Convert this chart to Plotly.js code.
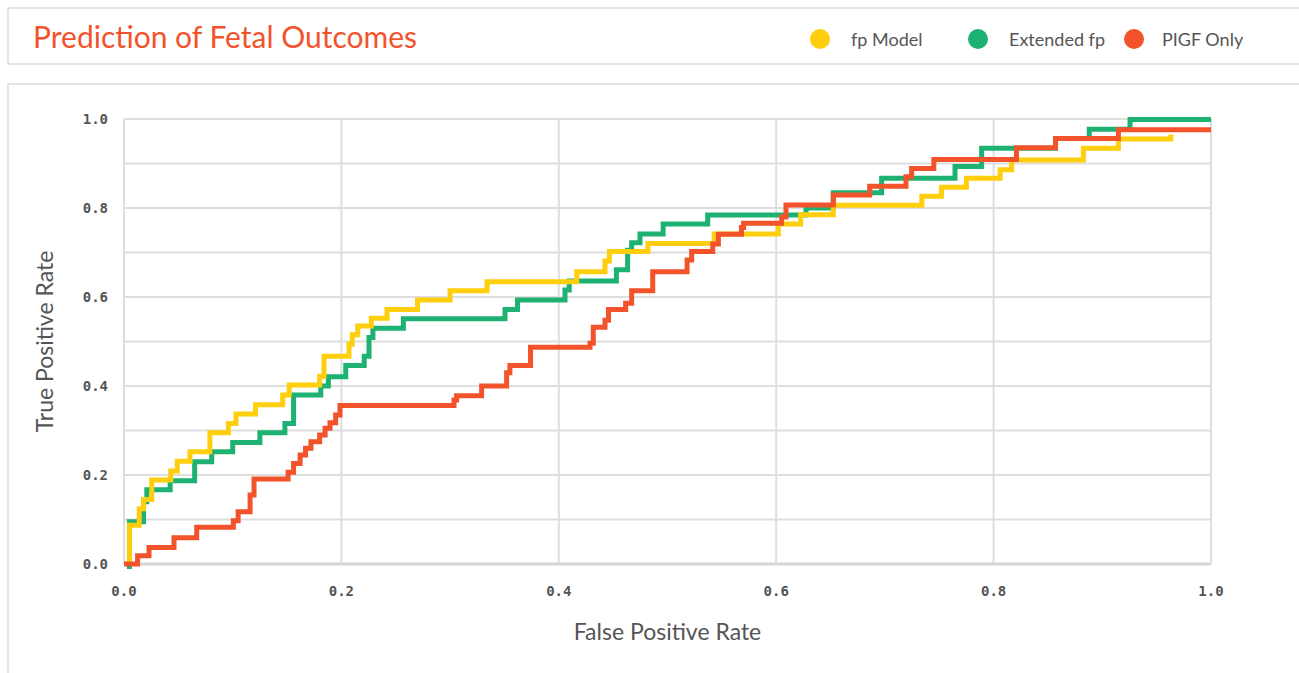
<!DOCTYPE html>
<html>
<head>
<meta charset="utf-8">
<script src="https://cdn.plot.ly/plotly-3.0.1.min.js"></script>
<style>
  html, body { margin: 0; padding: 0; background: #ffffff; }
  #chart { width: 1299px; height: 673px; }
</style>
</head>
<body>
<div id="chart"></div>
<script>
// ---- Data (ROC step points: false positive rate -> true positive rate) ----
const seriesNames = ["fp Model", "Extended fp", "PIGF Only"];

const fpModelFPR = [0.005, 0.005, 0.014, 0.018, 0.0255, 0.043, 0.049, 0.0607, 0.079, 0.096, 0.103, 0.121, 0.146, 0.152, 0.180, 0.184, 0.207, 0.210, 0.215, 0.2275, 0.242, 0.270, 0.300, 0.334, 0.4165, 0.4425, 0.4465, 0.482, 0.543, 0.602, 0.6225, 0.6525, 0.734, 0.752, 0.775, 0.806, 0.8166, 0.8826, 0.9148, 0.963];
const fpModelTPR = [0.000, 0.087, 0.124, 0.145, 0.189, 0.209, 0.231, 0.252, 0.295, 0.316, 0.337, 0.358, 0.380, 0.402, 0.422, 0.467, 0.494, 0.515, 0.535, 0.552, 0.572, 0.593, 0.614, 0.634, 0.657, 0.681, 0.702, 0.7205, 0.7416, 0.764, 0.785, 0.806, 0.8265, 0.8465, 0.8667, 0.886, 0.908, 0.934, 0.955, 0.965];

const extendedFPR = [0.005, 0.005, 0.018, 0.021, 0.0425, 0.065, 0.0807, 0.100, 0.125, 0.148, 0.156, 0.181, 0.188, 0.204, 0.221, 0.2254, 0.229, 0.257, 0.3505, 0.362, 0.4057, 0.4096, 0.453, 0.4633, 0.467, 0.4747, 0.496, 0.537, 0.6274, 0.6525, 0.697, 0.7645, 0.789, 0.857, 0.888, 0.9255, 1.000];
const extendedTPR = [-0.011, 0.095, 0.140, 0.167, 0.187, 0.230, 0.252, 0.273, 0.295, 0.316, 0.380, 0.400, 0.421, 0.446, 0.467, 0.509, 0.530, 0.551, 0.572, 0.593, 0.616, 0.636, 0.661, 0.705, 0.722, 0.7416, 0.764, 0.784, 0.800, 0.834, 0.8667, 0.893, 0.934, 0.956, 0.977, 0.999, 0.999];

const pigfFPR = [0.000, 0.0125, 0.023, 0.046, 0.0669, 0.1006, 0.105, 0.116, 0.1196, 0.151, 0.156, 0.162, 0.167, 0.172, 0.180, 0.185, 0.1895, 0.1947, 0.1987, 0.3036, 0.306, 0.329, 0.352, 0.355, 0.374, 0.4287, 0.4317, 0.4425, 0.4457, 0.4615, 0.467, 0.4864, 0.518, 0.5222, 0.5416, 0.5468, 0.568, 0.570, 0.605, 0.609, 0.6525, 0.686, 0.7194, 0.7246, 0.745, 0.821, 0.857, 0.9148, 1.000];
const pigfTPR = [0.000, 0.0187, 0.037, 0.059, 0.0824, 0.097, 0.1176, 0.155, 0.191, 0.206, 0.226, 0.245, 0.260, 0.275, 0.290, 0.305, 0.3176, 0.335, 0.356, 0.3685, 0.378, 0.400, 0.430, 0.446, 0.487, 0.496, 0.532, 0.548, 0.572, 0.586, 0.614, 0.657, 0.683, 0.702, 0.719, 0.741, 0.756, 0.766, 0.780, 0.807, 0.829, 0.849, 0.870, 0.889, 0.909, 0.9355, 0.956, 0.976, 0.976];

const xTickVals = [0, 0.2, 0.4, 0.6, 0.8, 1.0];
const xTickText = ["0.0", "0.2", "0.4", "0.6", "0.8", "1.0"];
const yTickVals = [0, 0.2, 0.4, 0.6, 0.8, 1.0];
const yTickText = ["0.0", "0.2", "0.4", "0.6", "0.8", "1.0"];
const yGridVals = [0, 0.1, 0.2, 0.3, 0.4, 0.5, 0.6, 0.7, 0.8, 0.9, 1.0];

const colors = { yellow: "#FFCE0C", green: "#1DB272", red: "#F2532B" };

// ---- Layout geometry helpers (pixel -> paper) ----
const W = 1299, H = 673;
const M = { l: 113, r: 77, t: 110, b: 100 };
const PW = W - M.l - M.r, PH = H - M.t - M.b;
const px = v => (v - M.l) / PW;
const py = v => 1 - (v - M.t) / PH;

const lineStyle = c => ({ color: c, width: 5, shape: "hv" });

const traces = [
  { x: extendedFPR, y: extendedTPR, name: seriesNames[1], mode: "lines", line: lineStyle(colors.green), showlegend: false, hoverinfo: "x+y+name" },
  { x: fpModelFPR, y: fpModelTPR, name: seriesNames[0], mode: "lines", line: lineStyle(colors.yellow), showlegend: false, hoverinfo: "x+y+name" },
  { x: pigfFPR, y: pigfTPR, name: seriesNames[2], mode: "lines", line: lineStyle(colors.red), showlegend: false, hoverinfo: "x+y+name" }
];

// Legend drawn as circles + labels
const legendItems = [
  { name: seriesNames[0], color: colors.yellow, cx: 820, tx: 849 },
  { name: seriesNames[1], color: colors.green, cx: 978, tx: 1007 },
  { name: seriesNames[2], color: colors.red, cx: 1134, tx: 1160 }
];
const legendY = 39, legendR = 10;

const gridColor = "#dedede";
const shapes = [
  // header box
  { type: "rect", xref: "paper", yref: "paper", x0: px(8), x1: px(1310), y0: py(64), y1: py(8),
    line: { color: "#dcdcdc", width: 1.5 }, fillcolor: "rgba(0,0,0,0)", layer: "below" },
  // chart box
  { type: "rect", xref: "paper", yref: "paper", x0: px(8), x1: px(1310), y0: py(690), y1: py(84),
    line: { color: "#dcdcdc", width: 1.5 }, fillcolor: "rgba(0,0,0,0)", layer: "below" }
];
// grid lines limited to the [0,1] x [0,1] square
yGridVals.forEach(v => shapes.push({ type: "line", xref: "x", yref: "y", x0: 0, x1: 1, y0: v, y1: v,
  line: { color: v === 0 ? "#d6d6d6" : gridColor, width: v === 0 ? 3 : 2 }, layer: "below" }));
xTickVals.forEach(v => shapes.push({ type: "line", xref: "x", yref: "y", x0: v, x1: v, y0: 0, y1: 1,
  line: { color: gridColor, width: 2 }, layer: "below" }));

legendItems.forEach(it => {
  shapes.push({ type: "circle", xref: "paper", yref: "paper",
    x0: px(it.cx - legendR), x1: px(it.cx + legendR), y0: py(legendY + legendR), y1: py(legendY - legendR),
    fillcolor: it.color, line: { width: 0 } });
});

const annotations = legendItems.map(it => ({
  xref: "paper", yref: "paper", x: px(it.tx), y: py(legendY), xanchor: "left", yanchor: "middle",
  text: it.name, showarrow: false, font: { family: "Lato, sans-serif", size: 18, color: "#555555" }
}));

const tickFont = { family: "'DejaVu Sans Mono', monospace", size: 14, color: "#555555", weight: "bold" };

const layout = {
  width: W, height: H,
  margin: { l: M.l, r: M.r, t: M.t, b: M.b, pad: 0, autoexpand: false },
  paper_bgcolor: "#ffffff", plot_bgcolor: "rgba(0,0,0,0)",
  showlegend: false,
  title: {
    text: "Prediction of Fetal Outcomes",
    font: { family: "Lato, sans-serif", size: 30, color: "#F2532B" },
    xref: "container", yref: "container", x: 33 / W, xanchor: "left", y: 1 - 37 / H, yanchor: "middle"
  },
  xaxis: {
    range: [-11 / 1087, -11 / 1087 + PW / 1087],
    tickvals: xTickVals, ticktext: xTickText, tickfont: tickFont,
    showgrid: false, zeroline: false, showline: false, ticks: "", ticklabelstandoff: 8,
    automargin: false, fixedrange: true,
    title: { text: "False Positive Rate", font: { family: "Lato, sans-serif", size: 23, color: "#555555" }, standoff: 25 }
  },
  yaxis: {
    range: [1 + 9 / 445 - PH / 445, 1 + 9 / 445],
    tickvals: yTickVals, ticktext: yTickText, tickfont: tickFont,
    showgrid: false, zeroline: false, showline: false, ticks: "", ticklabelstandoff: 4,
    automargin: false, fixedrange: true,
    title: { text: "True Positive Rate", font: { family: "Lato, sans-serif", size: 23, color: "#555555" }, standoff: 22 }
  },
  shapes: shapes,
  annotations: annotations
};

Plotly.newPlot("chart", traces, layout, { displayModeBar: false, staticPlot: true });
</script>
</body>
</html>
